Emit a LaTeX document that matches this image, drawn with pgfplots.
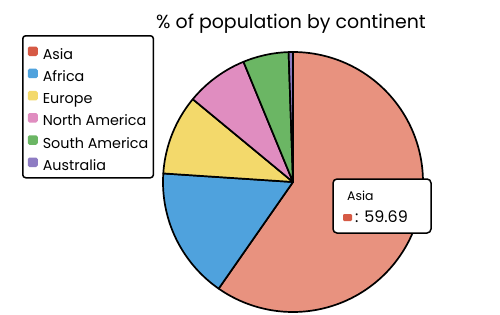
\documentclass[border=0pt]{standalone}
\usepackage{pgfplots}
\pgfplotsset{compat=1.18}
\usepackage{pgfplotstable}
\usepackage{fontspec}
\setmainfont{Poppins}

\definecolor{asia}{HTML}{E8927F}
\definecolor{asiaL}{HTML}{D65A45}
\definecolor{africa}{HTML}{4FA2DD}
\definecolor{europe}{HTML}{F3D96B}
\definecolor{namerica}{HTML}{E08DC0}
\definecolor{samerica}{HTML}{6BB664}
\definecolor{australia}{HTML}{8E7CC3}

\pgfplotstableread[col sep=comma]{
name,value,color
Asia,59.69,asia
Africa,16.36,africa
Europe,9.94,europe
North America,7.79,namerica
South America,5.68,samerica
Australia,0.54,australia
}\datatable

\newcommand{\lgimg}[1]{\addlegendimage{legend image code/.code={\fill[#1, rounded corners=1.2bp] (0bp,-4bp) rectangle (8.5bp,4bp);}}}

\begin{document}
\begin{tikzpicture}
\begin{axis}[
  x=1bp, y=1bp, xmin=0, xmax=500, ymin=0, ymax=314,
  hide axis, clip=false,
  legend cell align=left,
  legend style={at={(axis cs:22,279)}, anchor=north west, draw=black, line width=1.5bp,
    rounded corners=3bp, font=\fontsize{14.4}{16}\selectfont,
    inner xsep=5bp, inner ysep=6bp,
    row sep=3.2bp, column sep=5bp,
    nodes={inner sep=0pt, text height=17.5bp, text depth=1.5bp}},
]
\path (axis cs:0,0) rectangle (axis cs:500,314);
\def\cum{0}
\pgfplotstablegetrowsof{\datatable}
\pgfmathtruncatemacro\N{\pgfplotsretval-1}
\pgfplotsforeachungrouped \i in {0,...,\N}{%
  \pgfplotstablegetelem{\i}{value}\of\datatable \let\v\pgfplotsretval
  \pgfplotstablegetelem{\i}{color}\of\datatable \let\c\pgfplotsretval
  \pgfmathsetmacro\aone{90-3.6*\cum}%
  \pgfmathsetmacro\cum{\cum+\v}%
  \pgfmathsetmacro\atwo{90-3.6*\cum}%
  \edef\temp{\noexpand\addplot[forget plot, fill=\c, draw=black, line width=1.7bp, line join=round,
     domain=\atwo:\aone, samples=120, variable=\noexpand\t]
     ({293+130*cos(\noexpand\t)},{132+130*sin(\noexpand\t)}) -- (axis cs:293,132) -- cycle;}%
  \temp
}
\lgimg{asiaL}\addlegendentry{Asia}
\lgimg{africa}\addlegendentry{Africa}
\lgimg{europe}\addlegendentry{Europe}
\lgimg{namerica}\addlegendentry{North America}
\lgimg{samerica}\addlegendentry{South America}
\lgimg{australia}\addlegendentry{Australia}

\node[font=\fontsize{19}{21}\selectfont] at (axis cs:291,290) {\% of population by continent};

\draw[fill=white, line width=1.5bp, rounded corners=4bp] (axis cs:333,135) rectangle (axis cs:431,81);
\node[anchor=west, font=\fontsize{12.5}{14}\selectfont, inner sep=0pt] at (axis cs:347,118) {Asia};
\fill[asiaL, rounded corners=1.2bp] (axis cs:343,93) rectangle (axis cs:352,100);
\node[anchor=west, font=\fontsize{16}{18}\selectfont, inner sep=0pt] at (axis cs:355,97) {: 59.69};
\end{axis}
\end{tikzpicture}
\end{document}
